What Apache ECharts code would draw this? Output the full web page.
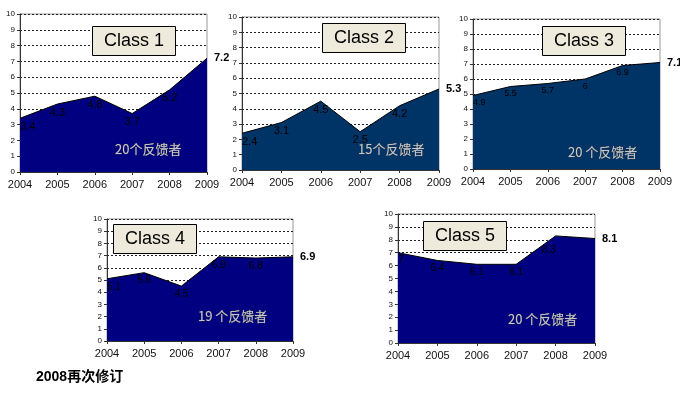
<!DOCTYPE html>
<html><head><meta charset="utf-8">
<script src="https://cdn.jsdelivr.net/npm/echarts@6/dist/echarts.min.js"></script>
<style>html,body{margin:0;padding:0;background:#fff}#c{width:680px;height:396px}</style>
</head><body><div id="c"></div>
<script>
const years = ['2004','2005','2006','2007','2008','2009'];
const class1 = [3.4, 4.3, 4.8, 3.7, 5.2, 7.2];
const class2 = [2.4, 3.1, 4.5, 2.5, 4.2, 5.3];
const class3 = [4.9, 5.5, 5.7, 6, 6.9, 7.1];
const class4 = [5.1, 5.6, 4.5, 6.9, 6.8, 6.9];
const class5 = [7.0, 6.4, 6.1, 6.1, 8.3, 8.1];
const classNames = ['Class 1','Class 2','Class 3','Class 4','Class 5'];
const respondents = ['20个反馈者','15个反馈者','20 个反馈者','19 个反馈者','20 个反馈者'];
const footer = '2008再次修订';

const allData = [class1, class2, class3, class4, class5];
const grids = [
  {left:20, top:14, width:187, height:158},
  {left:242, top:17, width:197, height:153},
  {left:473, top:19, width:187, height:150},
  {left:107, top:219, width:186, height:122},
  {left:398, top:214, width:197, height:129}
];
const colors = ['#000080','#003366','#003366','#000080','#000080'];
const labelSizes = [11,11,9,10,10];
const boxes = [
  {left:92, top:26}, {left:322, top:23}, {left:542, top:26}, {left:113, top:224}, {left:423, top:221}
];
const respPos = [
  {left:115, top:143}, {left:358, top:143}, {left:568, top:146}, {left:198, top:310}, {left:508, top:313}
];

const option = {
  animation:false,
  grid: grids.map(g => Object.assign({show:true, borderColor:'#999', borderWidth:1, backgroundColor:'#fff'}, g)),
  xAxis: grids.map((g,i) => ({
    type:'category', gridIndex:i, data:years, boundaryGap:false,
    axisLine:{lineStyle:{color:'#333', width:1}},
    axisTick:{show:true, length:3, lineStyle:{color:'#333'}},
    axisLabel:{color:'#111', fontSize:11, fontFamily:'Liberation Sans, Arial', margin:7},
    splitLine:{show:false}
  })),
  yAxis: grids.map((g,i) => ({
    type:'value', gridIndex:i, min:0, max:10, interval:1,
    axisLine:{show:true, lineStyle:{color:'#333', width:1}},
    axisTick:{show:true, length:3, lineStyle:{color:'#333'}},
    axisLabel:{color:'#111', fontSize:8, fontFamily:'Liberation Sans, Arial', margin:5},
    splitLine:{show:true, lineStyle:{color:'#222', type:[2,2], width:1}}
  })),
  title: [],
  series: allData.map((d,i) => ({
    type:'line', xAxisIndex:i, yAxisIndex:i,
    data: d.map((v,j) => {
      const item = {value:v};
      if (j === 0) item.label = {align:'left'};
      if (j === d.length-1) item.label = {position:'right', color:'#000', fontWeight:'bold', fontSize:11, distance:6};
      if (i === 4 && j === 4) item.label = {align:'right', distance:8};
      return item;
    }),
    symbol:'circle', symbolSize:2, showSymbol:true, showAllSymbol:true,
    itemStyle:{color:'rgba(0,0,0,0)', borderWidth:0},
    lineStyle:{width:1, color:'#000'},
    areaStyle:{color:colors[i], opacity:1},
    label:{show:true, position:'bottom', distance:2, color:'#000', fontSize:labelSizes[i], fontFamily:'Liberation Sans, Arial'},
    labelLayout:{hideOverlap:false},
    z:2
  }))
};
classNames.forEach((n,i) => {
  option.title.push({
    text:n, left:boxes[i].left, top:boxes[i].top,
    backgroundColor:'#EEEBDC', borderColor:'#000', borderWidth:1,
    padding:[5,12,5,12],
    textStyle:{fontSize:18, fontWeight:'normal', color:'#000', fontFamily:'Liberation Sans, Arial', lineHeight:20},
    z:10
  });
  option.title.push({
    text:respondents[i], left:respPos[i].left, top:respPos[i].top, padding:0,
    textStyle:{fontSize:13, fontWeight:'normal', color:'#C8C8C8', fontFamily:'Noto Sans CJK SC',
      textBorderColor:'#444', textBorderWidth:0.5},
    z:10
  });
});
option.title.push({
  text:footer, left:36, top:370, padding:0,
  textStyle:{fontSize:14, fontWeight:'bold', color:'#000', fontFamily:'Liberation Sans, Noto Sans CJK SC'}
});
const chart = echarts.init(document.getElementById('c'), null, {renderer:'canvas'});
chart.setOption(option);
</script></body></html>
